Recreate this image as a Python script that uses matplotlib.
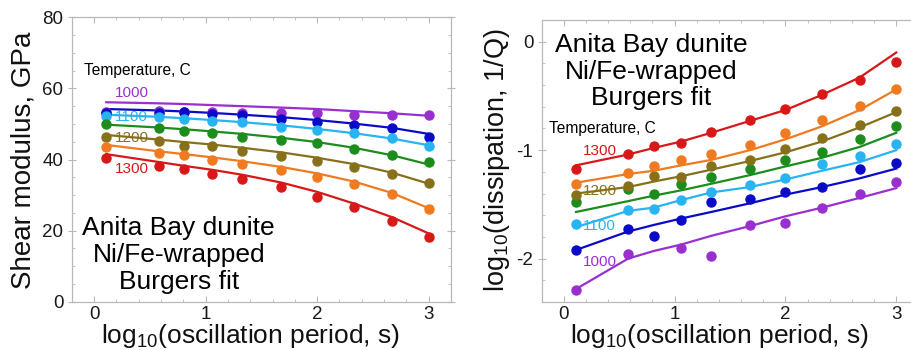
import matplotlib
matplotlib.use('Agg')
import matplotlib.pyplot as plt
import numpy as np

plt.rcParams['font.family'] = ['Liberation Sans', 'DejaVu Sans']
plt.rcParams['mathtext.fontset'] = 'custom'
plt.rcParams['mathtext.rm'] = 'Liberation Sans'
plt.rcParams['mathtext.it'] = 'Liberation Sans:italic'
plt.rcParams['axes.unicode_minus'] = False

# ---------------- data ----------------
log_period = [0.11, 0.58, 0.81, 1.06, 1.33, 1.68, 2.0, 2.33, 2.67, 3.0]
temperatures = ['1000', '1050', '1100', '1150', '1200', '1250', '1300']
colors = ['#9A2FD0', '#0A0AC8', '#28B4F0', '#1C8C1C', '#86701A', '#F07A20', '#D81818']

# Shear modulus (GPa), measured
mod_1000 = [53.4, 53.7, 53.5, 53.3, 53.2, 53.2, 53.0, 52.4, 52.6, 52.5]
mod_1050 = [53.0, 53.1, 53.3, 52.7, 52.4, 51.3, 50.6, 49.8, 48.8, 46.4]
mod_1100 = [52.3, 51.9, 51.4, 50.9, 50.5, 49.2, 48.4, 47.4, 46.1, 43.9]
mod_1150 = [49.9, 48.9, 48.0, 47.4, 46.4, 45.5, 44.6, 42.9, 41.3, 39.2]
mod_1200 = [46.4, 45.2, 43.9, 43.9, 42.4, 41.1, 39.6, 38.0, 35.9, 33.3]
mod_1250 = [43.4, 41.7, 41.3, 39.9, 38.7, 37.1, 35.2, 33.0, 30.2, 26.1]
mod_1300 = [40.3, 38.3, 37.3, 35.9, 34.5, 32.2, 29.5, 26.5, 22.8, 18.1]

# Shear modulus, Burgers fit
modfit_1000 = [56.1, 55.8, 55.6, 55.3, 55.0, 54.6, 54.2, 53.6, 53.0, 52.3]
modfit_1050 = [54.2, 53.8, 53.5, 53.1, 52.6, 51.9, 51.1, 50.1, 48.9, 47.2]
modfit_1100 = [52.6, 52.0, 51.6, 51.1, 50.5, 49.6, 48.6, 47.4, 45.9, 44.0]
modfit_1150 = [49.8, 49.0, 48.5, 47.9, 47.2, 46.1, 44.9, 43.3, 41.2, 38.6]
modfit_1200 = [46.9, 45.6, 44.9, 44.2, 43.3, 42.0, 40.5, 38.7, 36.3, 33.2]
modfit_1250 = [44.1, 42.3, 41.5, 40.6, 39.5, 37.9, 36.1, 33.8, 30.6, 26.3]
modfit_1300 = [41.5, 39.3, 38.2, 37.1, 35.7, 33.5, 30.9, 27.6, 23.8, 19.2]

# log10 dissipation, measured
dis_1000 = [-2.29, -1.96, np.nan, -1.90, -1.98, -1.69, -1.67, -1.53, -1.40, -1.29]
dis_1050 = [-1.92, -1.73, -1.79, -1.64, -1.48, -1.45, -1.39, -1.34, -1.17, -1.12]
dis_1100 = [-1.68, -1.55, -1.54, -1.46, -1.39, -1.32, -1.26, -1.13, -1.05, -0.94]
dis_1150 = [-1.48, -1.36, -1.40, -1.31, -1.25, -1.17, -1.09, -1.02, -0.90, -0.78]
dis_1200 = [-1.41, -1.33, -1.24, -1.25, -1.15, -1.09, -0.99, -0.89, -0.77, -0.64]
dis_1250 = [-1.31, -1.21, -1.15, -1.09, -1.04, -0.95, -0.84, -0.72, -0.59, -0.44]
dis_1300 = [-1.17, -1.04, -0.96, -0.93, -0.83, -0.72, -0.62, -0.48, -0.35, -0.19]

# log10 dissipation, Burgers fit
disfit_1000 = [-2.28, -2.00, -1.93, -1.87, -1.79, -1.70, -1.61, -1.53, -1.44, -1.35]
disfit_1050 = [-1.92, -1.75, -1.69, -1.63, -1.57, -1.49, -1.41, -1.34, -1.26, -1.17]
disfit_1100 = [-1.71, -1.56, -1.53, -1.46, -1.39, -1.34, -1.27, -1.19, -1.11, -1.00]
disfit_1150 = [-1.57, -1.47, -1.42, -1.37, -1.31, -1.23, -1.15, -1.07, -0.97, -0.84]
disfit_1200 = [-1.40, -1.34, -1.29, -1.24, -1.18, -1.10, -1.02, -0.92, -0.79, -0.65]
disfit_1250 = [-1.30, -1.22, -1.19, -1.14, -1.09, -1.00, -0.90, -0.78, -0.63, -0.44]
disfit_1300 = [-1.14, -1.04, -0.98, -0.92, -0.84, -0.73, -0.63, -0.49, -0.33, -0.10]

mod_data = [mod_1000, mod_1050, mod_1100, mod_1150, mod_1200, mod_1250, mod_1300]
mod_fits = [modfit_1000, modfit_1050, modfit_1100, modfit_1150, modfit_1200, modfit_1250, modfit_1300]
dis_data = [dis_1000, dis_1050, dis_1100, dis_1150, dis_1200, dis_1250, dis_1300]
dis_fits = [disfit_1000, disfit_1050, disfit_1100, disfit_1150, disfit_1200, disfit_1250, disfit_1300]

labelled = {'1000': 0, '1100': 2, '1200': 4, '1300': 6}
mod_label_y = {'1000': 58.7, '1100': 51.9, '1200': 46.0, '1300': 37.3}
dis_label_y = {'1000': -2.03, '1100': -1.70, '1200': -1.38, '1300': -1.01}
title_text = 'Anita Bay dunite\nNi/Fe-wrapped\nBurgers fit'

# ---------------- figure ----------------
W, H = 911, 350
fig = plt.figure(figsize=(W / 100, H / 100), dpi=100)

ax1 = fig.add_axes([71.7 / W, 1 - 301.7 / H, 379.3 / W, 284.4 / H])
ax2 = fig.add_axes([541.7 / W, 1 - 302 / H, 376.7 / W, 282 / H])

frame_col = '#B8B8B8'

def style(ax, ymaj, ymin):
    ax.set_xlim(-0.2, 3.2)
    ax.set_xticks([0, 1, 2, 3])
    ax.set_xticks(np.arange(-0.2, 3.21, 0.2), minor=True)
    ax.set_yticks(ymaj)
    ax.set_yticks(ymin, minor=True)
    for s in ax.spines.values():
        s.set_color(frame_col)
        s.set_linewidth(0.9)
    ax.tick_params(axis='both', which='both', color=frame_col, top=True, right=True,
                   labelsize=13.5, labelcolor='#1a1a1a')
    ax.tick_params(axis='x', which='major', direction='in', length=4, pad=3)
    ax.tick_params(axis='x', which='minor', direction='in', length=2.5)
    ax.tick_params(axis='y', which='major', direction='inout', length=6, pad=3)
    ax.tick_params(axis='y', which='minor', direction='in', length=2.5)

# Left panel
for i, t in enumerate(temperatures):
    ax1.plot(log_period, mod_fits[i], color=colors[i], lw=1.6, zorder=2)
    ax1.plot(log_period, mod_data[i], 'o', color=colors[i], ms=6.5, zorder=3)
ax1.set_ylim(0, 80)
style(ax1, [0, 20, 40, 60, 80], np.arange(0, 81, 5))
ax1.text(-0.09, 64.9, 'Temperature, C', fontsize=11.2, va='center', ha='left')
for t, i in labelled.items():
    ax1.text(0.19, mod_label_y[t], t, color=colors[i], fontsize=11, va='center', ha='left', zorder=4)
ax1.text(0.76, 13.1, title_text, fontsize=19, ha='center', va='center',
         multialignment='center', linespacing=1.15)

# Right panel
for i, t in enumerate(temperatures):
    ax2.plot(log_period, dis_fits[i], color=colors[i], lw=1.6, zorder=2)
    ax2.plot(log_period, dis_data[i], 'o', color=colors[i], ms=6.5, zorder=3)
ax2.set_ylim(-2.4, 0.2)
style(ax2, [-2, -1, 0], np.arange(-2.4, 0.21, 0.2))
ax2.text(-0.13, -0.80, 'Temperature, C', fontsize=11.2, va='center', ha='left')
for t, i in labelled.items():
    ax2.text(0.17, dis_label_y[t], t, color=colors[i], fontsize=11, va='center', ha='left', zorder=4)
ax2.text(0.79, -0.275, title_text, fontsize=19, ha='center', va='center',
         multialignment='center', linespacing=1.15)

# Axis labels
fig.text(24 / W, 1 - 160 / H, 'Shear modulus, GPa', rotation=90, fontsize=20,
         ha='center', va='center', color='#111111')
fig.text(497 / W, 1 - 160 / H, r'log$_{10}$(dissipation, 1/Q)', rotation=90, fontsize=19.5,
         ha='center', va='center', color='#111111')
fig.text(251 / W, 1 - 342.5 / H, r'log$_{10}$(oscillation period, s)', fontsize=19,
         ha='center', va='baseline', color='#111111')
fig.text(720 / W, 1 - 342.5 / H, r'log$_{10}$(oscillation period, s)', fontsize=19,
         ha='center', va='baseline', color='#111111')

fig.savefig('out.png', dpi=100)
